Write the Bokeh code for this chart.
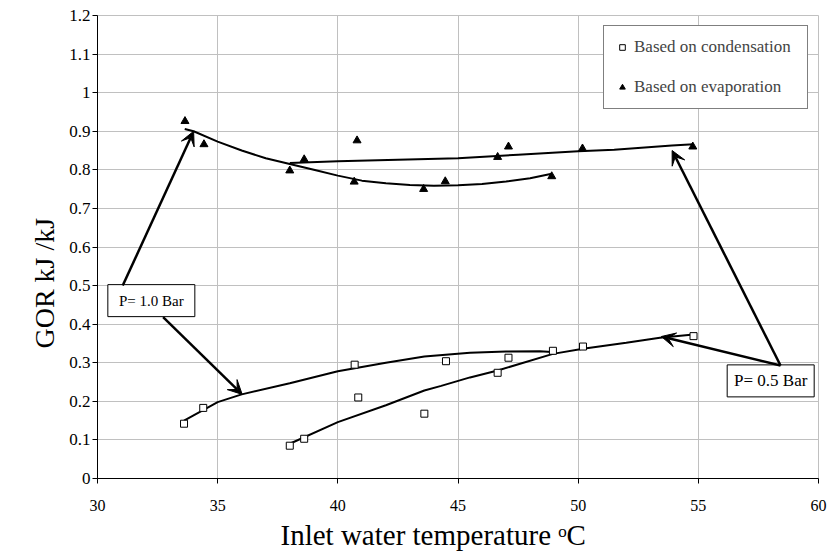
import math
from bokeh.plotting import figure
from bokeh.models import (Arrow, VeeHead, Legend, LegendItem, Range1d,
                          FixedTicker, Title)
from bokeh.embed import file_html
from bokeh.resources import INLINE
from bokeh.core.properties import value

FONT = "Liberation Serif"

# ---- data ----
cond_x = [33.6, 34.4, 38.0, 38.6, 40.7, 40.85, 43.6, 44.5, 46.65, 47.1, 48.95, 50.2, 54.8]
cond_y = [0.142, 0.183, 0.085, 0.103, 0.295, 0.21, 0.168, 0.304, 0.274, 0.313, 0.331, 0.342, 0.369]

evap_x = [33.64, 34.43, 38.0, 38.6, 40.68, 40.8, 43.57, 44.47, 46.65, 47.1, 48.9, 50.18, 54.77]
evap_y = [0.926, 0.866, 0.798, 0.827, 0.769, 0.876, 0.75, 0.77, 0.833, 0.86, 0.783, 0.855, 0.86]

# trend lines
evap_hi_x = [33.63, 34.0, 35.0, 36.0, 37.0, 38.0, 39.0, 40.0, 41.0, 42.0, 43.0, 44.0, 45.0, 46.0, 47.0, 48.0, 48.9]
evap_hi_y = [0.906, 0.900, 0.873, 0.850, 0.830, 0.815, 0.800, 0.785, 0.772, 0.765, 0.761, 0.759, 0.760, 0.763, 0.770, 0.778, 0.790]

evap_lo_x = [38.0, 40.0, 42.5, 45.0, 47.5, 50.0, 51.5, 53.9, 54.8]
evap_lo_y = [0.818, 0.822, 0.826, 0.830, 0.839, 0.848, 0.852, 0.863, 0.866]

cond_hi_x = [33.6, 35.0, 36.0, 38.0, 40.0, 42.0, 43.6, 45.5, 47.0, 48.4, 48.9]
cond_hi_y = [0.150, 0.198, 0.218, 0.247, 0.278, 0.300, 0.316, 0.326, 0.329, 0.330, 0.328]

cond_lo_x = [38.0, 40.0, 42.0, 43.6, 44.3, 45.5, 46.65, 48.95, 50.2, 52.0, 53.4, 54.8]
cond_lo_y = [0.090, 0.146, 0.190, 0.228, 0.240, 0.262, 0.280, 0.323, 0.336, 0.352, 0.365, 0.373]

x_ticks = [30, 35, 40, 45, 50, 55, 60]
y_ticks = [0, 0.1, 0.2, 0.3, 0.4, 0.5, 0.6, 0.7, 0.8, 0.9, 1, 1.1, 1.2]
y_tick_labels = ["0", "0.1", "0.2", "0.3", "0.4", "0.5", "0.6", "0.7", "0.8", "0.9", "1", "1.1", "1.2"]

legend_labels = ["Based on condensation", "Based on evaporation"]
x_title = "Inlet water temperature \u1d52C"
y_title = "GOR kJ /kJ"

box_texts = ["P= 1.0 Bar", "P= 0.5 Bar"]
box_x = [32.24, 58.01]
box_y = [0.461, 0.253]

# arrows: (start_x, start_y, end_x, end_y)
arrows = [
    (31.05, 0.500, 34.00, 0.900),
    (32.73, 0.418, 36.02, 0.218),
    (58.42, 0.293, 53.46, 0.368),
    (58.42, 0.293, 53.91, 0.850),
]

# ---- figure ----
p = figure(width=827, height=557, output_backend="svg", toolbar_location=None,
           x_range=Range1d(30, 60), y_range=Range1d(0, 1.2),
           min_border_left=97, min_border_right=9, min_border_top=15,
           min_border_bottom=79)
p.background_fill_color = "white"
p.border_fill_color = "white"
p.outline_line_color = "#c0c0c0"

p.xaxis.ticker = FixedTicker(ticks=x_ticks)
p.yaxis.ticker = FixedTicker(ticks=y_ticks)
p.yaxis.major_label_overrides = dict(zip(y_ticks, y_tick_labels))
p.xgrid.grid_line_color = "#c0c0c0"
p.ygrid.grid_line_color = "#c0c0c0"

for ax in (p.xaxis[0], p.yaxis[0]):
    ax.axis_line_color = "black"
    ax.major_tick_line_color = "black"
    ax.major_tick_out = 5
    ax.major_tick_in = 0
    ax.minor_tick_line_color = None
    ax.major_label_text_color = "black"
    ax.major_label_text_font = FONT
p.xaxis.major_label_text_font_size = "16px"
p.yaxis.major_label_text_font_size = "17px"
p.xaxis.major_label_standoff = 16
p.yaxis.major_label_standoff = 2

# trend lines
for xs, ys in ((evap_hi_x, evap_hi_y), (evap_lo_x, evap_lo_y),
               (cond_hi_x, cond_hi_y), (cond_lo_x, cond_lo_y)):
    p.line(xs, ys, line_color="black", line_width=2)

r_cond = p.scatter(cond_x, cond_y, marker="square", size=7, fill_color="white",
                   line_color="black", line_width=1)
r_evap = p.scatter(evap_x, evap_y, marker="triangle", size=8, fill_color="black",
                   line_color="black")

# text boxes
p.rect(x=box_x, y=box_y, width=87, height=32, width_units="screen",
       height_units="screen", fill_color="white", line_color="black", line_width=1)
p.text(x=[box_x[0]], y=[box_y[0]], text=[box_texts[0]], text_align="center",
       text_baseline="middle", text_font=value(FONT), text_font_size="15px",
       text_color="black")
p.text(x=[box_x[1]], y=[box_y[1]], text=[box_texts[1]], text_align="center",
       text_baseline="middle", text_font=value(FONT), text_font_size="17px",
       text_color="black")

for (x0, y0, x1, y1) in arrows:
    p.add_layout(Arrow(x_start=x0, y_start=y0, x_end=x1, y_end=y1,
                       line_color="black", line_width=2.5,
                       end=VeeHead(size=14, fill_color="black",
                                   line_color="black")))

legend = Legend(items=[LegendItem(label=legend_labels[0], renderers=[r_cond]),
                       LegendItem(label=legend_labels[1], renderers=[r_evap])],
                location="top_right")
legend.margin = 10
legend.padding = 11
legend.spacing = 20
legend.label_height = 20
legend.glyph_height = 20
legend.glyph_width = 14
legend.label_standoff = 5
legend.label_width = 162
legend.label_text_font = FONT
legend.label_text_font_size = "17px"
legend.border_line_color = "black"
legend.border_line_width = 1
legend.background_fill_color = "white"
legend.background_fill_alpha = 1
p.add_layout(legend)

# axis titles
tx = Title(text=x_title, align="left", offset=183, standoff=6,
           text_font=FONT, text_font_size="29px", text_font_style="normal",
           text_color="black")
p.add_layout(tx, "below")
ty = Title(text=y_title, align="left", offset=130, standoff=13,
           text_font=FONT, text_font_size="28px", text_font_style="normal",
           text_color="black")
p.add_layout(ty, "left")

open("out.html", "w").write(file_html(p, INLINE))
